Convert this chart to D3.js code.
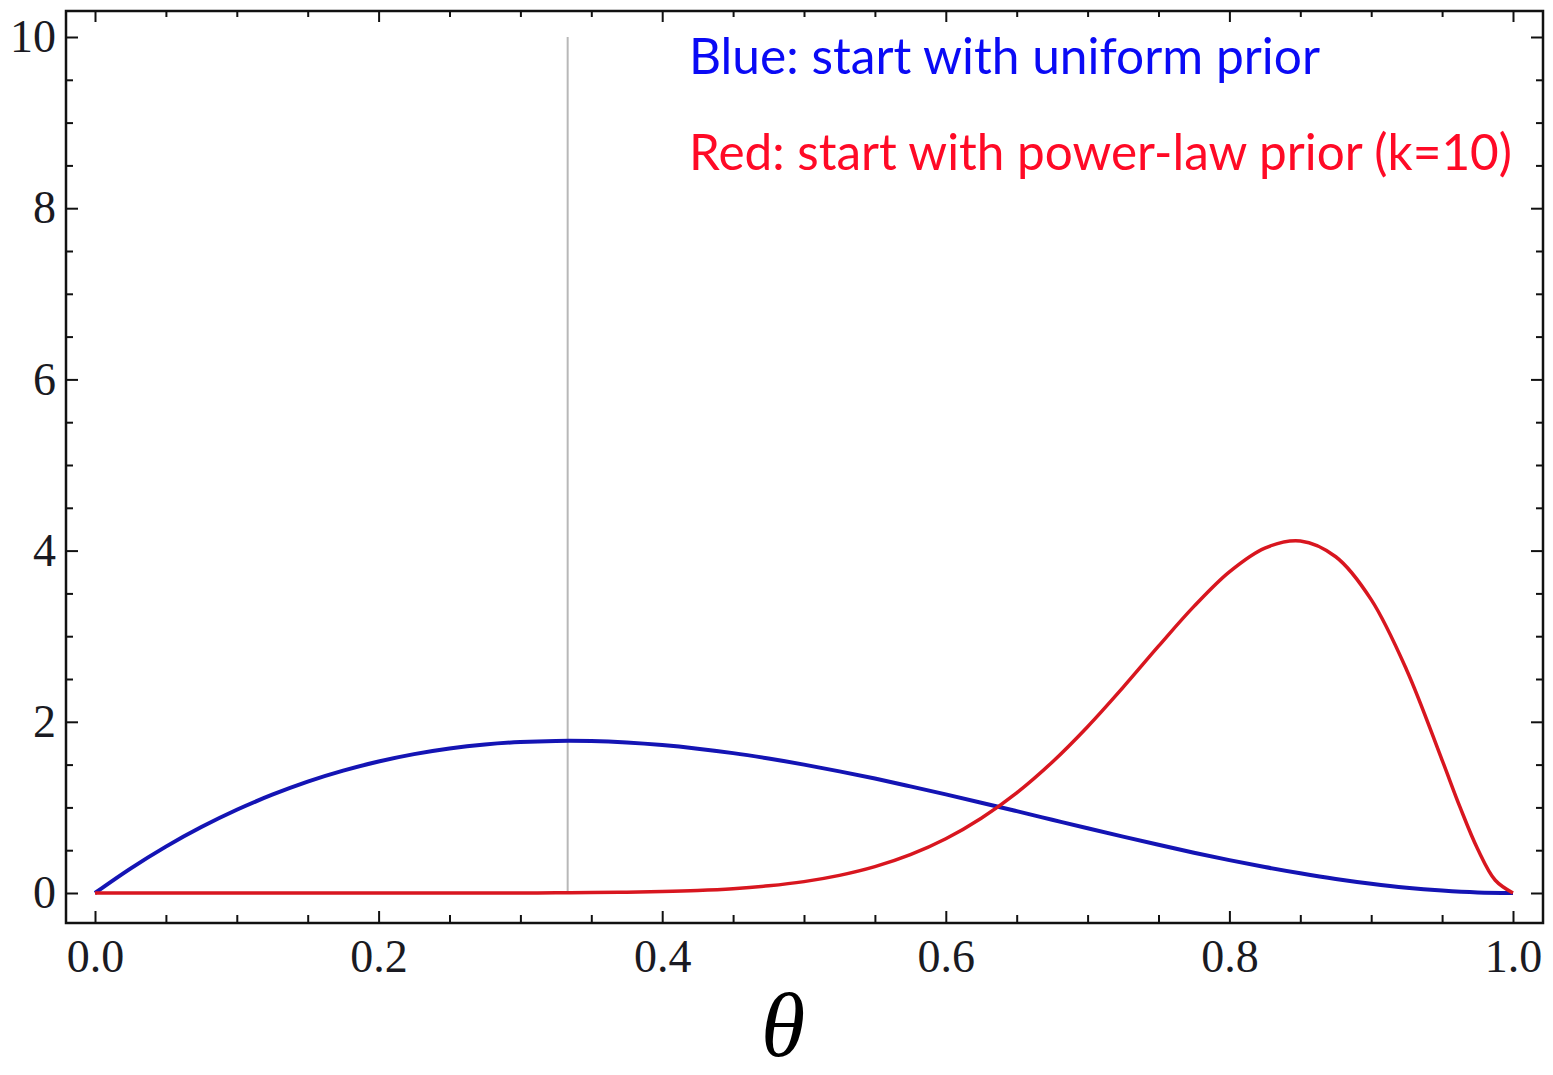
<!DOCTYPE html>
<html>
<meta charset="utf-8">
<style>
body { margin: 0; background: white; }
.axis text { font-family: "Liberation Serif", "DejaVu Serif", serif; font-size: 46px; fill: #1a1a22; }
.axis path { display: none; }
.axis line { stroke: #111; stroke-width: 2px; }
</style>
<head>
<script src="https://d3js.org/d3.v7.min.js"></script>
</head>
<body>
<script>
// values, theta in steps of 0.025
var theta = d3.range(0, 41).map(function(i){ return i / 40; });

var blueVals = [0, 0.285, 0.542, 0.770, 0.972, 1.148, 1.301, 1.429, 1.536, 1.622,
                1.688, 1.735, 1.764, 1.777, 1.775, 1.758, 1.728, 1.686, 1.634, 1.571,
                1.500, 1.421, 1.337, 1.246, 1.152, 1.055, 0.956, 0.856, 0.756, 0.658,
                0.563, 0.471, 0.384, 0.303, 0.230, 0.164, 0.108, 0.062, 0.029, 0.007, 0];

// red is read a bit finer near the right edge, where it drops fast
var redTheta = theta.slice(0, 39).concat([0.9625, 0.975, 0.9875, 1]);
var redVals = [0, 0, 0, 0, 0, 0, 0, 0, 0, 0,
               0, 0, 0.001, 0.002, 0.005, 0.009, 0.017, 0.030, 0.051, 0.084,
               0.133, 0.206, 0.308, 0.448, 0.634, 0.874, 1.170, 1.528, 1.943, 2.402,
               2.883, 3.348, 3.752, 4.030, 4.113, 3.928, 3.427, 2.606, 1.553,
               1.009, 0.517, 0.149, 0];

var markerTheta = 1 / 3;

var xMajor = [0, 0.2, 0.4, 0.6, 0.8, 1.0];
var yMajor = [0, 2, 4, 6, 8, 10];

var legendLines = [
  {text: "Blue: start with uniform prior", color: "#0a0af5", len: 631},
  {text: "Red: start with power-law prior (k=10)", color: "#ff0a26", len: 823}
];

(function () {
  var width = 1553, height = 1075;
  var frame = {left: 66, right: 1543, top: 11, bottom: 923};

  var svg = d3.select("body").append("svg")
    .attr("width", width)
    .attr("height", height);

  var x = d3.scaleLinear().domain([0, 1]).range([95, 1513]);
  var y = d3.scaleLinear().domain([0, 10]).range([893, 37]);

  var xMinor = d3.range(0, 21).map(function(i){ return i / 20; })
    .filter(function(v){ return Math.abs(v * 5 - Math.round(v * 5)) > 1e-6; });
  var yMinor = d3.range(0, 21).map(function(i){ return i / 2; })
    .filter(function(v){ return v % 2 !== 0; });

  // frame
  svg.append("rect")
    .attr("x", frame.left).attr("y", frame.top)
    .attr("width", frame.right - frame.left)
    .attr("height", frame.bottom - frame.top)
    .attr("fill", "none")
    .attr("stroke", "#111")
    .attr("stroke-width", 2.5);

  // bottom
  svg.append("g").attr("class", "axis")
    .attr("transform", "translate(0," + frame.bottom + ")")
    .call(d3.axisBottom(x).tickValues(xMajor).tickSize(-12).tickPadding(16)
      .tickFormat(d3.format(".1f")));
  svg.append("g").attr("class", "axis")
    .attr("transform", "translate(0," + frame.bottom + ")")
    .call(d3.axisBottom(x).tickValues(xMinor).tickSize(-8).tickFormat(""));
  // top
  svg.append("g").attr("class", "axis")
    .attr("transform", "translate(0," + frame.top + ")")
    .call(d3.axisTop(x).tickValues(xMajor).tickSize(-11).tickFormat(""));
  svg.append("g").attr("class", "axis")
    .attr("transform", "translate(0," + frame.top + ")")
    .call(d3.axisTop(x).tickValues(xMinor).tickSize(-6).tickFormat(""));
  // left
  svg.append("g").attr("class", "axis")
    .attr("transform", "translate(" + frame.left + ",0)")
    .call(d3.axisLeft(y).tickValues(yMajor).tickSize(-12).tickPadding(10)
      .tickFormat(d3.format("d")));
  svg.append("g").attr("class", "axis")
    .attr("transform", "translate(" + frame.left + ",0)")
    .call(d3.axisLeft(y).tickValues(yMinor).tickSize(-7).tickFormat(""));
  // right
  svg.append("g").attr("class", "axis")
    .attr("transform", "translate(" + frame.right + ",0)")
    .call(d3.axisRight(y).tickValues(yMajor).tickSize(-12).tickFormat(""));
  svg.append("g").attr("class", "axis")
    .attr("transform", "translate(" + frame.right + ",0)")
    .call(d3.axisRight(y).tickValues(yMinor).tickSize(-7).tickFormat(""));

  // vertical marker
  svg.append("line")
    .attr("x1", x(markerTheta)).attr("x2", x(markerTheta))
    .attr("y1", y(0)).attr("y2", y(10))
    .attr("stroke", "#b8b8b8")
    .attr("stroke-width", 2);

  var line = d3.line()
    .x(function(d){ return x(d[0]); })
    .y(function(d){ return y(d[1]); })
    .curve(d3.curveCatmullRom.alpha(0.5));

  svg.append("path")
    .datum(theta.map(function(t, i){ return [t, blueVals[i]]; }))
    .attr("d", line)
    .attr("fill", "none")
    .attr("stroke", "#1414b4")
    .attr("stroke-width", 4);

  svg.append("path")
    .datum(redTheta.map(function(t, i){ return [t, redVals[i]]; }))
    .attr("d", line)
    .attr("fill", "none")
    .attr("stroke", "#d8161f")
    .attr("stroke-width", 3.5);

  // legend text
  svg.selectAll("text.legend")
    .data(legendLines)
    .enter().append("text")
    .attr("class", "legend")
    .attr("x", 689)
    .attr("y", function(d, i){ return 74 + i * 96; })
    .attr("textLength", function(d){ return d.len; })
    .attr("lengthAdjust", "spacingAndGlyphs")
    .attr("fill", function(d){ return d.color; })
    .style("font-family", "Lato, 'Open Sans', sans-serif")
    .style("font-size", "50px")
    .text(function(d){ return d.text; });

  // x label
  svg.append("text")
    .attr("x", 783)
    .attr("y", 1056)
    .attr("text-anchor", "middle")
    .style("font-family", "'Liberation Serif', serif")
    .style("font-style", "italic")
    .style("font-size", "90px")
    .attr("fill", "#000")
    .text("θ");
})();
</script>
</body>
</html>
